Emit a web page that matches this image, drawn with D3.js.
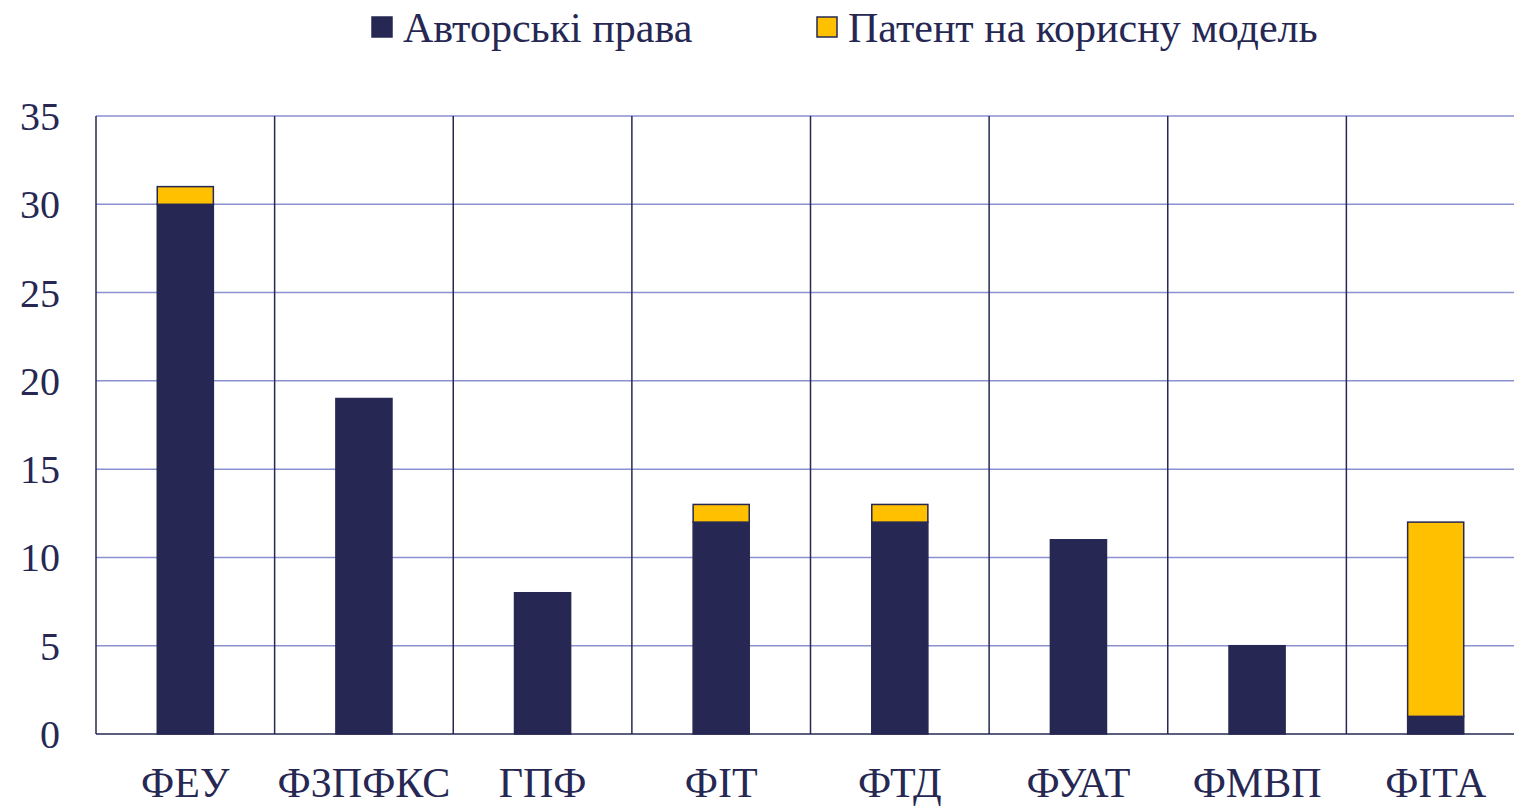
<!DOCTYPE html>
<html>
<head>
<meta charset="utf-8">
<script src="https://cdn.jsdelivr.net/npm/d3@7"></script>
<style>
  html, body { margin: 0; padding: 0; background: #fff; }
  svg { display: block; }
</style>
</head>
<body>
<svg id="chart"></svg>
<script>
const categories = ["ФЕУ", "ФЗПФКС", "ГПФ", "ФІТ", "ФТД", "ФУАТ", "ФМВП", "ФІТА"];
const copyright = [30, 19, 8, 12, 12, 11, 5, 1];
const patent = [1, 0, 0, 1, 1, 0, 0, 11];
const seriesNames = ["Авторські права", "Патент на корисну модель"];
const seriesColors = ["#262853", "#ffc000"];
const yTicks = [0, 5, 10, 15, 20, 25, 30, 35];

const width = 1514, height = 807;
const margin = { top: 116, left: 96, bottom: 73 };
const plotRight = 1525;
const navy = "#262853";
const font = "'Liberation Serif', 'Times New Roman', serif";

const svg = d3.select("#chart").attr("width", width).attr("height", height);

const x = d3.scaleBand()
    .domain(categories)
    .range([margin.left, plotRight])
    .paddingInner(0.686)
    .paddingOuter(0.343);

const y = d3.scaleLinear()
    .domain([0, 35])
    .range([height - margin.bottom, margin.top]);

// horizontal gridlines
svg.append("g")
    .selectAll("line")
    .data(yTicks.slice(1))
    .join("line")
    .attr("x1", margin.left).attr("x2", width)
    .attr("y1", d => y(d)).attr("y2", d => y(d))
    .attr("stroke", "#8c8fd0")
    .attr("stroke-width", 1.5);

// vertical category separators
const step = x.step();
svg.append("g")
    .selectAll("line")
    .data(categories)
    .join("line")
    .attr("x1", (d, i) => margin.left + i * step)
    .attr("x2", (d, i) => margin.left + i * step)
    .attr("y1", y(35)).attr("y2", y(0))
    .attr("stroke", navy)
    .attr("stroke-width", 1.5);

// stacked bars
const stackData = categories.map((c, i) => ({ cat: c, a: copyright[i], p: patent[i] }));
const stacked = d3.stack().keys(["a", "p"])(stackData);

svg.append("g")
    .selectAll("g")
    .data(stacked)
    .join("g")
    .attr("fill", (d, i) => seriesColors[i])
    .selectAll("rect")
    .data(d => d.filter(s => s[1] > s[0]))
    .join("rect")
    .attr("x", d => x(d.data.cat))
    .attr("width", x.bandwidth())
    .attr("y", d => y(d[1]))
    .attr("height", d => y(d[0]) - y(d[1]))
    .attr("stroke", navy)
    .attr("stroke-width", 1.5);

// bottom axis line
svg.append("line")
    .attr("x1", margin.left).attr("x2", width)
    .attr("y1", y(0)).attr("y2", y(0))
    .attr("stroke", navy)
    .attr("stroke-width", 1.5);

// y tick labels
svg.append("g")
    .selectAll("text")
    .data(yTicks)
    .join("text")
    .attr("x", 60)
    .attr("y", d => y(d))
    .attr("dy", "0.35em")
    .attr("text-anchor", "end")
    .style("font-family", font)
    .style("font-size", "40px")
    .attr("fill", navy)
    .text(d => d);

// category labels
svg.append("g")
    .selectAll("text")
    .data(categories)
    .join("text")
    .attr("x", d => x(d) + x.bandwidth() / 2)
    .attr("y", 797)
    .attr("text-anchor", "middle")
    .style("font-family", font)
    .style("font-size", "42px")
    .attr("fill", navy)
    .text(d => d);

// legend
const legendX = [371, 816];
const legend = svg.append("g")
    .selectAll("g")
    .data(seriesNames)
    .join("g")
    .attr("transform", (d, i) => `translate(${legendX[i]},0)`);

legend.append("rect")
    .attr("x", 1).attr("y", 17)
    .attr("width", 20).attr("height", 20)
    .attr("fill", (d, i) => seriesColors[i])
    .attr("stroke", navy)
    .attr("stroke-width", 1.5);

legend.append("text")
    .attr("x", 32).attr("y", 42)
    .style("font-family", font)
    .style("font-size", "42px")
    .attr("fill", navy)
    .text(d => d);
</script>
</body>
</html>
